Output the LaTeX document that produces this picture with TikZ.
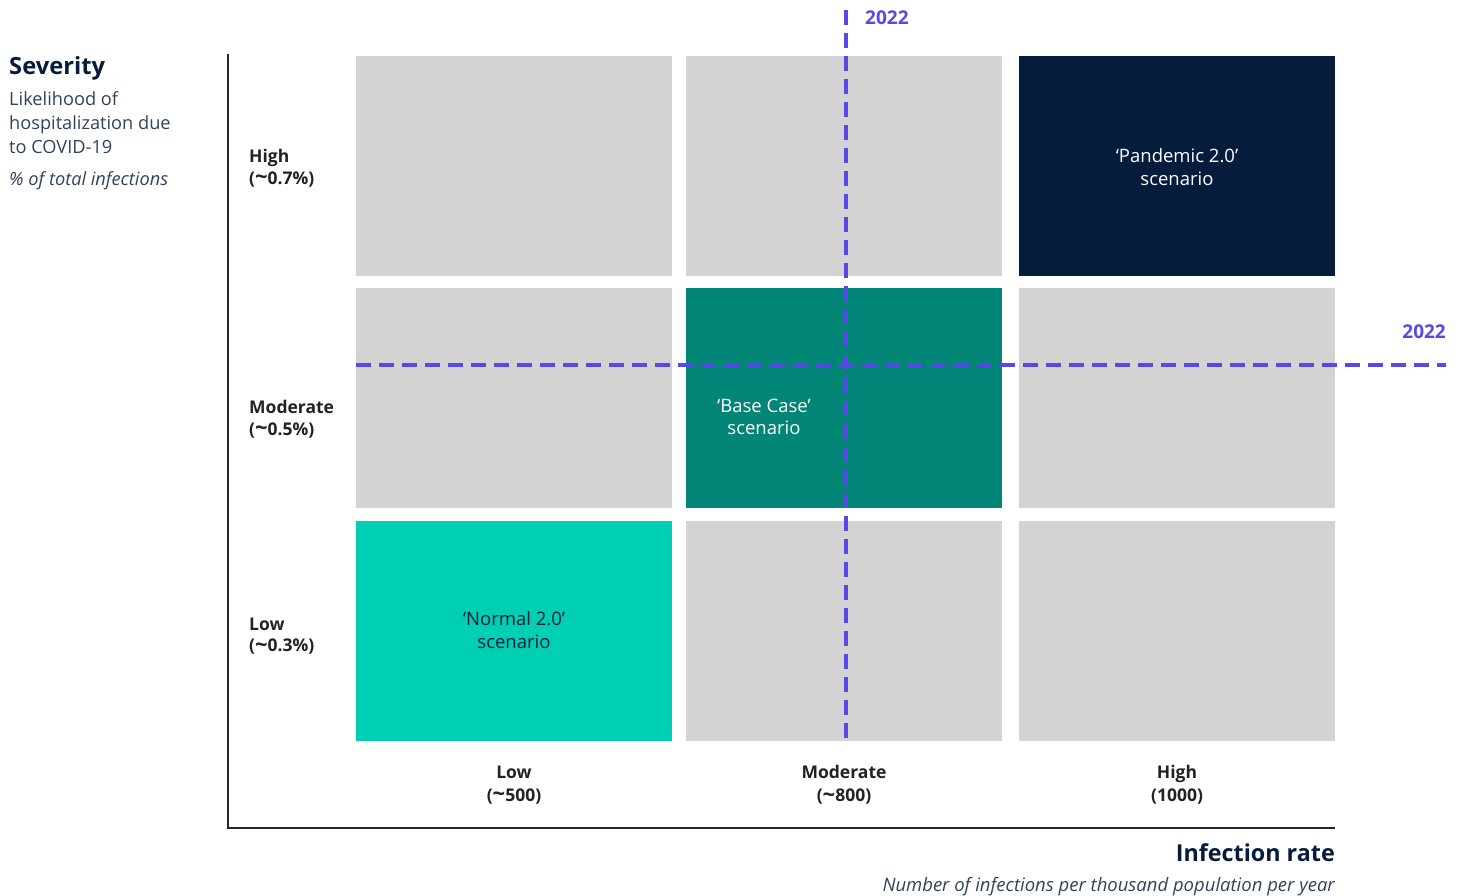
\documentclass[tikz,border=0pt]{standalone}
\usepackage{fontspec}
\setmainfont{Open Sans}
\definecolor{navy}{HTML}{051C3D}
\definecolor{teal}{HTML}{008577}
\definecolor{turq}{HTML}{00CFB4}
\definecolor{cellgray}{HTML}{D3D3D3}
\definecolor{purp}{HTML}{5649E8}
\definecolor{subtxt}{HTML}{33425A}
\definecolor{lbl}{HTML}{222222}
\tikzset{
  cell/.style={fill=cellgray, draw=none},
  celltxt/.style={align=center, font=\fontsize{18.5}{22.5}\selectfont, inner sep=0pt},
  rowlbl/.style={align=left, anchor=west, font=\fontsize{17.5}{21.5}\selectfont\bfseries, text=lbl, inner sep=0pt},
  collbl/.style={align=center, font=\fontsize{17.5}{23}\selectfont\bfseries, text=lbl, inner sep=0pt},
  yearlbl/.style={font=\fontsize{19}{20}\selectfont\bfseries, text=purp, inner sep=0pt},
  dashline/.style={draw=purp, line width=4pt, dash pattern=on 15pt off 8pt},
  axisline/.style={draw=black!85, line width=1.5pt}
}
\newcommand{\tl}{{\fontsize{22}{22}\selectfont\raisebox{-0.5pt}{\textasciitilde}}}
\begin{document}
\begin{tikzpicture}[x=1pt,y=-1pt]
\useasboundingbox (0,0) rectangle (1462,895);
% cells
\fill[cell] (356,56) rectangle (672,276);
\fill[cell] (686,56) rectangle (1002,276);
\fill[navy] (1019,56) rectangle (1335,276);
\fill[cell] (356,288) rectangle (672,508);
\fill[teal] (686,288) rectangle (1002,508);
\fill[cell] (1019,288) rectangle (1335,508);
\fill[turq] (356,521) rectangle (672,741);
\fill[cell] (686,521) rectangle (1002,741);
\fill[cell] (1019,521) rectangle (1335,741);
% cell texts
\node[celltxt, text=white] (pand) at (1177,167) {‘Pandemic 2.0’\\scenario};
\node[celltxt, text=white] (base) at (764,417) {‘Base Case’\\scenario};
\node[celltxt, text=navy] (norm) at (514,630) {‘Normal 2.0’\\scenario};
% axes
\coordinate (atop) at (228,54);
\coordinate (aorig) at (228,828);
\coordinate (aright) at (1335,828);
\draw[axisline] (atop) -- (aorig) -- (aright);
% dashed lines
\coordinate (vtop) at (846,10);
\coordinate (vbot) at (846,741);
\coordinate (hleft) at (356,365);
\coordinate (hright) at (1446,365);
\draw[dashline] (vtop) -- (vbot);
\draw[dashline] (hleft) -- (hright);
\node[yearlbl, anchor=west] (y1) at (865,18) {2022};
\node[yearlbl, anchor=east] (y2) at (1446,332) {2022};
% row labels
\node[rowlbl] (rhigh) at (249,168) {High\\(\tl0.7\%)};
\node[rowlbl] (rmod) at (249,419) {Moderate\\(\tl0.5\%)};
\node[rowlbl] (rlow) at (249,636) {Low\\(\tl0.3\%)};
% column labels
\node[collbl] (clow) at (514,785) {Low\\(\tl500)};
\node[collbl] (cmod) at (844,785) {Moderate\\(\tl800)};
\node[collbl] (chigh) at (1177,785) {High\\(1000)};
% titles
\node[anchor=west, inner sep=0pt, font=\fontsize{23.7}{26}\selectfont\bfseries, text=navy] (sev) at (9,68) {Severity};
\node[anchor=north west, align=left, inner sep=0pt, font=\fontsize{18.2}{24}\selectfont, text=subtxt] (likel) at (9,91) {Likelihood of\\hospitalization due\\to COVID-19};
\node[anchor=west, inner sep=0pt, font=\fontsize{18.2}{22}\selectfont\itshape, text=subtxt] (pct) at (9,181) {\% of total infections};
\node[anchor=east, inner sep=0pt, font=\fontsize{23.3}{26}\selectfont\bfseries, text=navy] (inf) at (1335,853) {Infection rate};
\node[anchor=east, inner sep=0pt, font=\fontsize{18.5}{22}\selectfont\itshape, text=subtxt] (num) at (1335,887) {Number of infections per thousand population per year};
\end{tikzpicture}
\end{document}
